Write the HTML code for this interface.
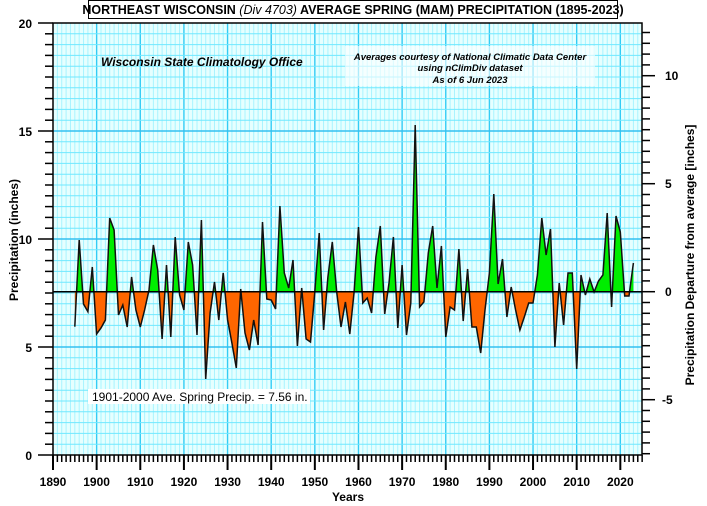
<!DOCTYPE html>
<html><head><meta charset="utf-8"><style>
html,body{margin:0;padding:0;background:#fff;width:707px;height:506px;overflow:hidden}
svg{display:block;font-family:"Liberation Sans",sans-serif}
.b{font-weight:bold;font-size:12px}
</style></head><body>
<svg id="s" width="707" height="506" xmlns="http://www.w3.org/2000/svg">
<defs>
<clipPath id="up"><rect x="53" y="23" width="589" height="268.7"/></clipPath>
<clipPath id="dn"><rect x="53" y="291.7" width="589" height="164"/></clipPath>
</defs>
<rect x="53" y="23" width="589" height="432" fill="#e6ffff"/>
<g id="grid"></g>
<g id="ser"></g>
<line x1="53" y1="291.7" x2="642" y2="291.7" stroke="#000" stroke-width="1.5"/>
<rect x="53" y="23" width="589" height="432" fill="none" stroke="#000" stroke-width="1.5"/>
<g id="ticks" stroke="#000"></g>
<rect x="88.5" y="0.5" width="529" height="18" fill="#fff" stroke="#000"/>
<text x="353" y="14" text-anchor="middle" font-size="12.5" font-weight="bold">NORTHEAST WISCONSIN <tspan font-style="italic" font-weight="normal">(Div 4703)</tspan> AVERAGE SPRING (MAM) PRECIPITATION (1895-2023)</text>
<text x="101" y="66" font-size="12" font-weight="bold" font-style="italic">Wisconsin State Climatology Office</text>
<rect x="345" y="46" width="250" height="40" fill="#fff" opacity="0.6"/>
<text font-size="9.5" font-weight="bold" font-style="italic" text-anchor="middle"><tspan x="470" y="60">Averages courtesy of National Climatic Data Center</tspan><tspan x="470" y="71">using nClimDiv dataset</tspan><tspan x="470" y="83">As of 6 Jun 2023</tspan></text>
<rect x="88" y="389" width="222" height="15" fill="#fff"/>
<text x="92" y="401" font-size="12">1901-2000 Ave. Spring Precip. = 7.56 in.</text>
<g class="b" text-anchor="end"><text x="32" y="28">20</text><text x="32" y="136">15</text><text x="32" y="244">10</text><text x="32" y="352">5</text><text x="32" y="460">0</text></g>
<g class="b"><text x="665" y="80">10</text><text x="665" y="188">5</text><text x="665" y="296">0</text><text x="662" y="404">-5</text></g>
<g class="b" text-anchor="middle"><text x="53" y="486">1890</text><text x="96.6" y="486">1900</text><text x="140.3" y="486">1910</text><text x="183.9" y="486">1920</text><text x="227.6" y="486">1930</text><text x="271.2" y="486">1940</text><text x="314.8" y="486">1950</text><text x="358.5" y="486">1960</text><text x="402.1" y="486">1970</text><text x="445.8" y="486">1980</text><text x="489.4" y="486">1990</text><text x="533" y="486">2000</text><text x="576.7" y="486">2010</text><text x="620.3" y="486">2020</text></g>
<text x="348" y="501" class="b" text-anchor="middle">Years</text>
<text transform="translate(18,240) rotate(-90)" class="b" text-anchor="middle">Precipitation  (inches)</text>
<text transform="translate(694,255) rotate(-90)" class="b" text-anchor="middle">Precipitation Departure from average [inches]</text>
</svg>
<script>
var NS="http://www.w3.org/2000/svg";
function el(p,t,a){var e=document.createElementNS(NS,t);for(var k in a)e.setAttribute(k,a[k]);p.appendChild(e);return e;}
var g=document.getElementById('grid'),tk=document.getElementById('ticks');
var X=function(y){return 53+(y-1890)*4.364;};
for(var y=1891;y<2025;y++){var x=X(y);el(g,'line',{x1:x,y1:23,x2:x,y2:455,stroke:y%10?'#a8f4ff':'#33ccf5','stroke-width':y%10?1:1.4});}
for(var i=1;i<40;i++){var yy=455-i*10.8;el(g,'line',{x1:53,y1:yy,x2:642,y2:yy,stroke:i%10?'#70e8ff':'#33c0f0','stroke-width':i%10?1:1.4});}
for(var i=0;i<=40;i++){var yy=455-i*10.8;el(tk,'line',{x1:i%10?45:38,y1:yy,x2:53,y2:yy,'stroke-width':i%10?1.5:1.5});}
for(var y=1890;y<=2025;y++){var x=X(y);el(tk,'line',{x1:x,y1:455,x2:x,y2:y%10?462:470,'stroke-width':y%10?1.5:2});}
for(var i=-15;i<=24;i++){var yy=291.7-i*10.8;if(yy<23||yy>455)continue;el(tk,'line',{x1:642,y1:yy,x2:i%10?650:655,y2:yy,'stroke-width':1.5});}
var Y=[326.7,240,304,311.7,267,334,328,320,218,230,315,305,327,277,310,327,310,290,245,270,339,265,337,237,295,310,242,265,335,220,379,313,282,320,273,320,343,368,289,333,350,320,345,222,299,300,309,206,273,288,260,346,288,339,342,292,233,330,277,242,292,327,302,334,292,227,303,298,313,257,226,314,283,237,328,265,335,303,125,307,302,253,226,288,246,337,307,310,249,321,269,327,327,353,310,273,194,284,259,317,287,310,330,317,303,303,275,218,255,229,347,283,325,273,273,369,275,295,279,292,281,275,213,307,216,232,296,296,263];
var pts=Y.map(function(v,i){return X(1895+i).toFixed(1)+','+v;});
var poly=X(1895)+',291.7 '+pts.join(' ')+' '+X(2023)+',291.7';
var s=document.getElementById('ser');
el(s,'polygon',{points:poly,fill:'#00ee00','clip-path':'url(#up)'});
el(s,'polygon',{points:poly,fill:'#ff6600','clip-path':'url(#dn)'});
el(s,'polyline',{points:pts.join(' '),fill:'none',stroke:'#111','stroke-width':1.5});
</script>
</body></html>
